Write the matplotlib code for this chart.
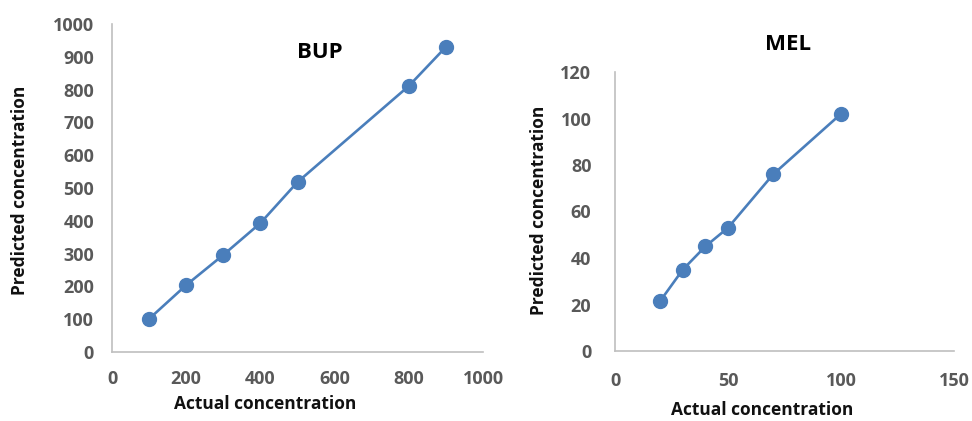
import matplotlib
matplotlib.use("Agg")
import matplotlib.pyplot as plt

# Data
bup_actual = [100, 200, 300, 400, 500, 800, 900]
bup_pred = [101, 204, 296, 393, 518, 811, 930]
mel_actual = [20, 30, 40, 50, 70, 100]
mel_pred = [21.5, 35, 45, 53, 76, 102]

bup_xticks = [0, 200, 400, 600, 800, 1000]
bup_yticks = [0, 100, 200, 300, 400, 500, 600, 700, 800, 900, 1000]
mel_xticks = [0, 50, 100, 150]
mel_yticks = [0, 20, 40, 60, 80, 100, 120]

plt.rcParams['font.family'] = ['Open Sans', 'DejaVu Sans']

W, H = 972, 421
fig = plt.figure(figsize=(W / 100, H / 100), dpi=100)

def px_axes(x0, y0, x1, y1):
    return fig.add_axes([x0 / W, 1 - y1 / H, (x1 - x0) / W, (y1 - y0) / H])

blue = '#4A7EBB'
spine_c = '#BFBFBF'
tick_c = '#595959'
TICK_FS = 13
LAB_FS = 12.5

def style(ax):
    for s in ['top', 'right']:
        ax.spines[s].set_visible(False)
    for s in ['left', 'bottom']:
        ax.spines[s].set_color(spine_c)
        ax.spines[s].set_linewidth(1.2)
    ax.tick_params(length=0, labelsize=TICK_FS, labelcolor=tick_c)
    for lab in ax.get_xticklabels() + ax.get_yticklabels():
        lab.set_fontweight('bold')

# Left: BUP
L0, T0, R0, B0 = 112, 24, 483, 352
ax1 = px_axes(L0, T0, R0, B0)
ax1.plot(bup_actual, bup_pred, color=blue, lw=1.9, marker='o', ms=10, zorder=3, clip_on=False)
ax1.set_xlim(0, 1000)
ax1.set_ylim(0, 1000)
ax1.set_xticks(bup_xticks)
ax1.set_yticks(bup_yticks)
style(ax1)
ax1.tick_params(axis='y', pad=13)
ax1.tick_params(axis='x', pad=13)
ax1.set_xlabel('Actual concentration', fontsize=LAB_FS, fontweight='bold', color='#111111')
ax1.set_ylabel('Predicted concentration', fontsize=LAB_FS, fontweight='bold', color='#111111')
ax1.xaxis.set_label_coords((265 - L0) / (R0 - L0), -(395 - B0) / (B0 - T0))
ax1.yaxis.set_label_coords(-(L0 - 29) / (R0 - L0), (B0 - 190) / (B0 - T0))
ax1.text((320 - L0) / (R0 - L0), (B0 - 52) / (B0 - T0), 'BUP', transform=ax1.transAxes,
         fontsize=16, fontweight='bold', ha='center', va='center', color='black')

# Right: MEL
L1, T1, R1, B1 = 615, 72, 954, 351
ax2 = px_axes(L1, T1, R1, B1)
ax2.plot(mel_actual, mel_pred, color=blue, lw=1.9, marker='o', ms=10, zorder=3, clip_on=False)
ax2.set_xlim(0, 150)
ax2.set_ylim(0, 120)
ax2.set_xticks(mel_xticks)
ax2.set_yticks(mel_yticks)
style(ax2)
ax2.tick_params(axis='y', pad=17)
ax2.tick_params(axis='x', pad=15)
ax2.set_xlabel('Actual concentration', fontsize=LAB_FS, fontweight='bold', color='#111111')
ax2.set_ylabel('Predicted concentration', fontsize=LAB_FS, fontweight='bold', color='#111111')
ax2.xaxis.set_label_coords((762 - L1) / (R1 - L1), -(401 - B1) / (B1 - T1))
ax2.yaxis.set_label_coords(-(L1 - 548) / (R1 - L1), (B1 - 210) / (B1 - T1))
ax2.text((788 - L1) / (R1 - L1), (B1 - 45) / (B1 - T1), 'MEL', transform=ax2.transAxes,
         fontsize=16, fontweight='bold', ha='center', va='center', color='black')

fig.savefig('out.png', dpi=100)
